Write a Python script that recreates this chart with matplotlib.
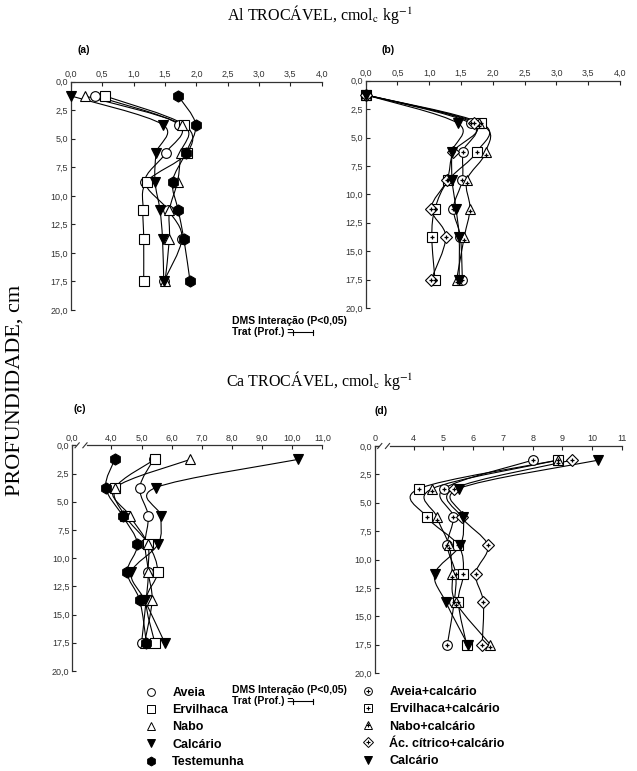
import numpy as np
import matplotlib.pyplot as plt
from matplotlib.path import Path
from matplotlib.patches import PathPatch
from matplotlib.lines import Line2D
from matplotlib.legend_handler import HandlerTuple

plt.rcParams['font.family'] = ['Liberation Sans', 'DejaVu Sans']
plt.rcParams['mathtext.fontset'] = 'stix'

# profundidades (cm)
depth = [1.25, 3.75, 6.25, 8.75, 11.25, 13.75, 17.5]

# (a) Al trocavel - plantas
al_aveia = [0.39, 1.72, 1.51, 1.18, 1.55, 1.77, 1.48]
al_ervilhaca = [0.54, 1.80, 1.85, 1.21, 1.15, 1.16, 1.16]
al_nabo = [0.22, 1.77, 1.75, 1.70, 1.57, 1.57, 1.50]
al_calcario = [0.0, 1.46, 1.36, 1.34, 1.42, 1.46, 1.48]
al_testemunha = [1.71, 1.99, 1.83, 1.62, 1.71, 1.80, 1.90]

# (b) Al trocavel - plantas + calcario
alc_aveia = [0.0, 1.65, 1.53, 1.52, 1.38, 1.49, 1.52]
alc_ervilhaca = [0.0, 1.82, 1.75, 1.30, 1.09, 1.04, 1.09]
alc_nabo = [0.0, 1.78, 1.89, 1.59, 1.64, 1.55, 1.43]
alc_citrico = [0.0, 1.70, 1.38, 1.28, 1.03, 1.26, 1.03]
alc_calcario = [0.0, 1.45, 1.36, 1.36, 1.42, 1.47, 1.47]

# (c) Ca trocavel - plantas
ca_aveia = [5.40, 4.94, 5.22, 5.11, 5.22, 5.15, 5.00]
ca_ervilhaca = [5.44, 4.13, 4.45, 5.22, 5.53, 5.15, 5.44]
ca_nabo = [6.62, 4.13, 4.61, 5.20, 5.22, 5.35, 5.10]
ca_calcario = [10.2, 5.47, 5.63, 5.55, 4.66, 5.11, 5.77]
ca_testemunha = [4.11, 3.81, 4.37, 4.86, 4.52, 4.94, 5.16]

# (d) Ca trocavel - plantas + calcario
cac_aveia = [8.0, 5.02, 5.33, 5.13, 5.41, 5.36, 5.13]
cac_ervilhaca = [8.84, 4.19, 4.44, 5.50, 5.67, 5.50, 5.78]
cac_nabo = [8.85, 4.63, 4.78, 5.19, 5.30, 5.41, 6.58]
cac_citrico = [9.31, 5.36, 5.61, 6.49, 6.08, 6.34, 6.30]
cac_calcario = [10.2, 5.52, 5.67, 5.56, 4.71, 5.08, 5.82]

labels_plantas = ['Aveia', 'Ervilhaca', 'Nabo', 'Calcário', 'Testemunha']
labels_calc = ['Aveia+calcário', 'Ervilhaca+calcário', 'Nabo+calcário',
               'Ác. cítrico+calcário', 'Calcário']

y_ticks = [0, 2.5, 5, 7.5, 10, 12.5, 15, 17.5, 20]
al_ticks = [0, 0.5, 1, 1.5, 2, 2.5, 3, 3.5, 4]
ca_ticks = [4, 5, 6, 7, 8, 9, 10, 11]

W, H = 637, 771
fig = plt.figure(figsize=(W / 100, H / 100), dpi=100)


def box(l, r, t, b):
    return [l / W, 1 - b / H, (r - l) / W, (b - t) / H]


def comma(v, fmt='{:.1f}'):
    return fmt.format(v).replace('.', ',')


# estilos: (marker, preenchido, com cruz, tamanho)
st_plantas = [('o', False, False, 7), ('s', False, False, 6.5), ('^', False, False, 7),
              ('v', True, False, 7.5), ('h', True, False, 8)]
st_calc = [('o', False, True, 7), ('s', False, True, 6.5), ('^', False, True, 7.5),
           ('D', False, True, 6), ('v', True, False, 7.5)]


def spline(x, y):
    # curva suave (Catmull-Rom em Bezier) passando pelos pontos
    p = np.column_stack([x, y]).astype(float)
    e = np.vstack([p[0], p, p[-1]])
    verts = [p[0]]
    codes = [Path.MOVETO]
    for i in range(len(p) - 1):
        c1 = e[i + 1] + (e[i + 2] - e[i]) / 6
        c2 = e[i + 2] - (e[i + 3] - e[i + 1]) / 6
        verts += [c1, c2, e[i + 2]]
        codes += [Path.CURVE4] * 3
    return Path(verts, codes)


def draw(ax, series, styles):
    for xs, (m, filled, plus, ms) in zip(series, styles):
        ax.add_patch(PathPatch(spline(xs, depth), fill=False, ec='k', lw=0.8, zorder=2))
        ax.plot(xs, depth, ls='none', marker=m, ms=ms, mfc='k' if filled else 'white',
                mec='k', mew=0.8, zorder=3, clip_on=False)
        if plus:
            off = 0.25 if m == '^' else 0
            ax.plot(xs, [d + off for d in depth], ls='none', marker='+', ms=3.5,
                    mec='k', mew=0.9, zorder=4, clip_on=False)


def setup(ax, xlim, ticks, labels, broken=False):
    ax.set_xlim(*xlim)
    ax.set_ylim(20, 0)
    ax.xaxis.tick_top()
    ax.set_xticks(ticks)
    ax.set_xticklabels(labels)
    ax.set_yticks(y_ticks)
    ax.set_yticklabels([comma(v) for v in y_ticks])
    ax.tick_params(direction='in', labelsize=6.5, length=3, width=0.8, pad=2,
                   colors='#222222', labelcolor='#333333')
    for s in ['right', 'bottom']:
        ax.spines[s].set_visible(False)
    for s in ['left', 'top']:
        ax.spines[s].set_linewidth(0.9)
        ax.spines[s].set_color('#333333')
    if broken:
        ax.spines['top'].set_bounds(3.2, xlim[1])
        ax.plot([xlim[0], 2.8], [0, 0], color='#333333', lw=0.9, clip_on=False)
        for xc in [2.86, 3.12]:
            ax.plot([xc - 0.07, xc + 0.07], [0.22, -0.22], color='#333333', lw=0.8,
                    clip_on=False)


ax_a = fig.add_axes(box(71, 321.7, 81.7, 310))
ax_b = fig.add_axes(box(365.7, 620, 80.7, 308))
ax_c = fig.add_axes(box(72.3, 322.3, 445.3, 671))
ax_d = fig.add_axes(box(375, 622, 446, 673))

setup(ax_a, (0, 4), al_ticks, [comma(v) for v in al_ticks])
setup(ax_b, (0, 4), al_ticks, [comma(v) for v in al_ticks])
setup(ax_c, (2.7, 11), [2.7] + ca_ticks, ['0,0'] + [comma(v) for v in ca_ticks], True)
setup(ax_d, (2.7, 11), [2.7] + ca_ticks, ['0'] + [str(v) for v in ca_ticks], True)

draw(ax_a, [al_aveia, al_ervilhaca, al_nabo, al_calcario, al_testemunha], st_plantas)
draw(ax_b, [alc_aveia, alc_ervilhaca, alc_nabo, alc_citrico, alc_calcario], st_calc)
draw(ax_c, [ca_aveia, ca_ervilhaca, ca_nabo, ca_calcario, ca_testemunha], st_plantas)
draw(ax_d, [cac_aveia, cac_ervilhaca, cac_nabo, cac_citrico, cac_calcario], st_calc)

# rotulos dos paineis
for lab, (x, y) in zip(['(a)', '(b)', '(c)', '(d)'],
                       [(84, 50), (388, 50), (80, 409), (381, 411)]):
    fig.text(x / W, 1 - y / H, lab, ha='center', va='center', fontsize=7.5,
             fontweight='bold')

serif = ['Liberation Serif', 'DejaVu Serif']
fig.text(320 / W, 1 - 15 / H, r'Al TROCÁVEL, cmol$_\mathrm{c}$ kg$^\mathrm{-1}$',
         ha='center', va='center', fontsize=11.5, family=serif)
fig.text(320 / W, 1 - 380 / H, r'Ca TROCÁVEL, cmol$_\mathrm{c}$ kg$^\mathrm{-1}$',
         ha='center', va='center', fontsize=11.5, family=serif)
fig.text(15 / W, 1 - 390 / H, 'PROFUNDIDADE, cm', rotation=90, ha='center',
         va='center', fontsize=16, family=serif)

# DMS
for y0 in [321, 690]:
    fig.text(232 / W, 1 - y0 / H, 'DMS Interação (P<0,05)', ha='left', va='center',
             fontsize=7.5, fontweight='bold')
    fig.text(232 / W, 1 - (y0 + 11) / H, 'Trat (Prof.) = ', ha='left',
             va='center', fontsize=7.5, fontweight='bold')
    yb = 1 - (y0 + 11) / H
    fig.add_artist(Line2D([293 / W, 313 / W], [yb, yb], color='k', lw=0.8))
    for xb in [293, 313]:
        fig.add_artist(Line2D([xb / W, xb / W], [yb - 2.5 / H, yb + 2.5 / H],
                              color='k', lw=0.8))


def handles(styles):
    hs = []
    for m, filled, plus, ms in styles:
        base = Line2D([], [], ls='none', marker=m, ms=ms * 0.8,
                      mfc='k' if filled else 'white', mec='k', mew=0.7)
        if plus:
            hs.append((base, Line2D([], [], ls='none', marker='+', ms=3, mec='k',
                                    mew=0.8)))
        else:
            hs.append(base)
    return hs


leg_kw = dict(loc='upper left', frameon=False, handlelength=0.8, handletextpad=1.3,
              labelspacing=0.42, borderpad=0, borderaxespad=0,
              prop={'size': 9, 'weight': 'bold'},
              handler_map={tuple: HandlerTuple(ndivide=1, pad=0)})
fig.legend(handles(st_plantas), labels_plantas,
           bbox_to_anchor=(146 / W, 1 - 687 / H), **leg_kw)
fig.legend(handles(st_calc), labels_calc,
           bbox_to_anchor=(363 / W, 1 - 686 / H), **leg_kw)

fig.savefig('out.png', dpi=100)
